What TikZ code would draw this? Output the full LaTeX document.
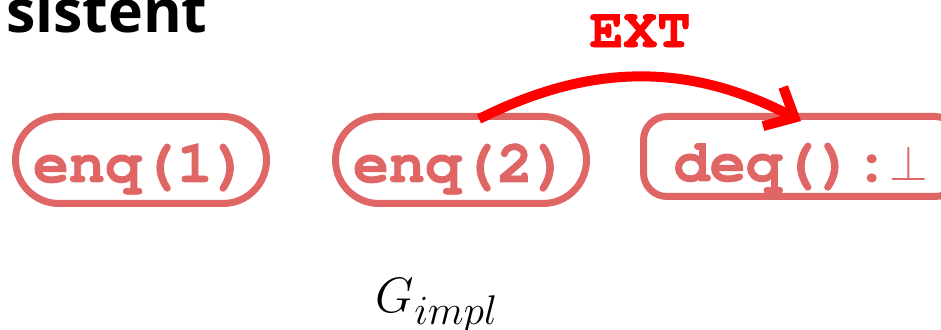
\documentclass[tikz,border=0pt]{standalone}
\usepackage{fontspec}
\setmainfont{Open Sans}
\setmonofont{texgyrecursor}[Extension=.otf, UprightFont=*-regular, BoldFont=*-bold, BoldFeatures={FakeBold=1.5}]
\usetikzlibrary{arrows.meta,positioning}
\definecolor{oprose}{HTML}{E06666}
\definecolor{extred}{HTML}{FF0000}

\begin{document}
\begin{tikzpicture}[x=0.5pt, y=-0.5pt,
    op/.style={draw=oprose, text=oprose, line width=3.5pt, rounded corners=21.75pt, minimum width=125.5pt, minimum height=43.5pt, inner sep=0pt, text height=22pt, text depth=0pt, font=\fontsize{30}{36}\selectfont\ttfamily\bfseries},
    ext/.style={-{Straight Barb[length=12pt,width=22pt]}, draw=extred, line width=5pt}
  ]
  \useasboundingbox (0,0) rectangle (941,330);
  \clip (0,0) rectangle (941,330);
  \node[font=\fontsize{29.5}{35}\selectfont\bfseries, inner sep=0pt, anchor=base east] (title) at (208,33) {sistent};
  \node[op] (enq1) at (141,160) {enq(1)};
  \node[op, right=31pt of enq1] (enq2) {enq(2)};
  \node[op, rounded corners=11.75pt, minimum width=157.5pt, minimum height=40pt, text height=24.5pt, right=25pt of enq2.north east, anchor=north west] (deq) {deq():$\bot$};
  \draw[ext] ([xshift=9pt,yshift=-3pt]enq2.north) to[bend left=27] node[midway, above=15pt, inner sep=0pt, outer sep=0pt, text=extred, font=\fontsize{28}{33}\selectfont\ttfamily\bfseries] (extlbl) {EXT} ([yshift=-4pt]deq.north);
  \node[below=53pt of enq2.south, anchor=base, xshift=-12pt, font=\fontsize{30}{36}\selectfont] (gimpl) {$G_{impl}$};
\end{tikzpicture}
\end{document}
